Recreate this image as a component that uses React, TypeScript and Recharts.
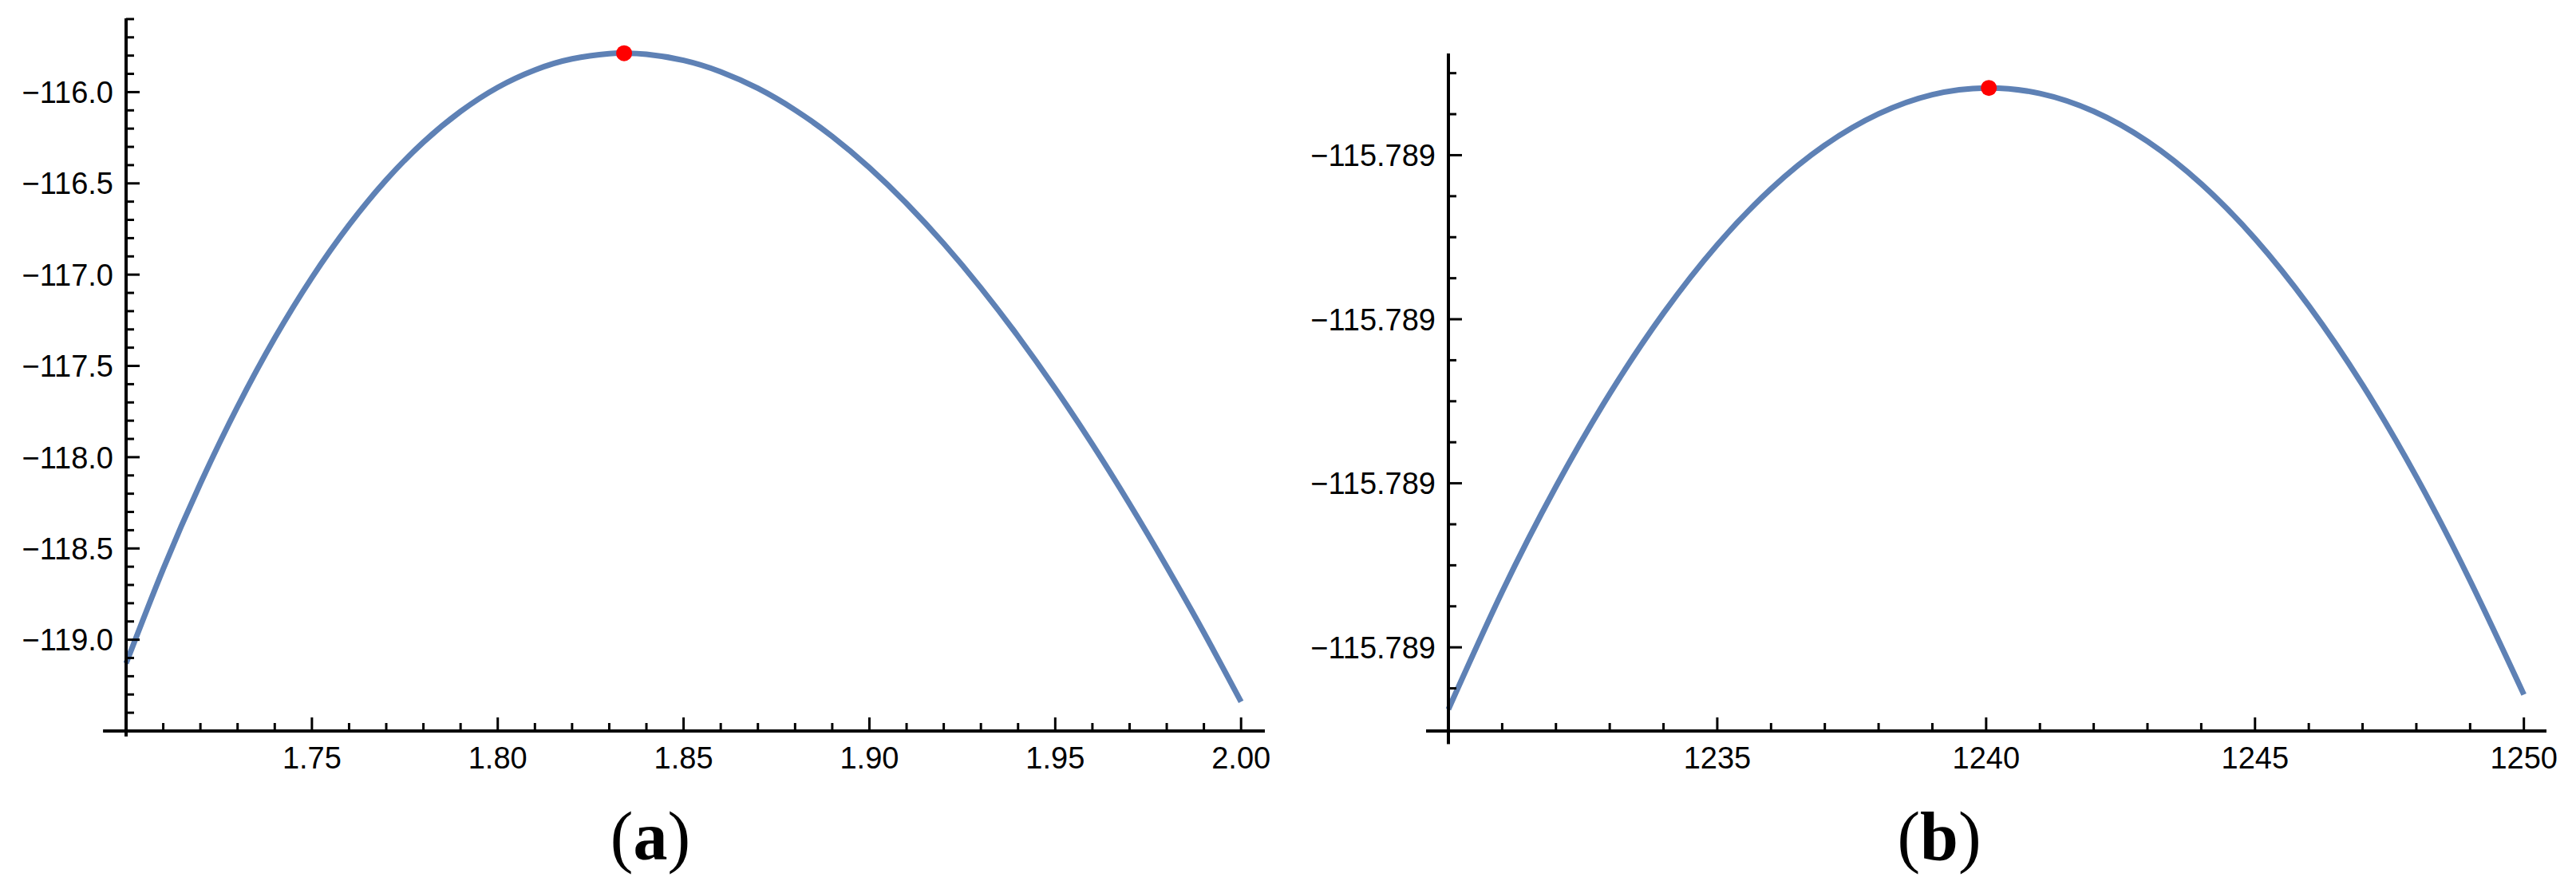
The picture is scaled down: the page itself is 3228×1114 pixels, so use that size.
import React from 'react'
import { ComposedChart, Line, Scatter, XAxis, YAxis, ReferenceLine } from 'recharts'

// panel (a)
const leftX = [
  1.7, 1.71, 1.72, 1.73, 1.74, 1.75, 1.76, 1.77, 1.78, 1.79, 1.8, 1.81, 1.82, 1.83, 1.834, 1.84, 1.85,
  1.86, 1.87, 1.88, 1.89, 1.9, 1.91, 1.92, 1.93, 1.94, 1.95, 1.96, 1.97, 1.98, 1.99, 2.0,
]
const leftY = [
  -119.13, -118.612, -118.144, -117.723, -117.347, -117.016, -116.728, -116.481, -116.274, -116.106,
  -115.974, -115.879, -115.818, -115.7895, -115.787, -115.7925, -115.826, -115.8885, -115.9795,
  -116.098, -116.243, -116.414, -116.61, -116.83, -117.073, -117.338, -117.624, -117.93, -118.256,
  -118.6, -118.961, -119.34,
]
const leftPeakX = [1.834]
const leftPeakY = [-115.787]

const leftXTicks = [
  1.71, 1.72, 1.73, 1.74, 1.75, 1.76, 1.77, 1.78, 1.79, 1.8, 1.81, 1.82, 1.83, 1.84, 1.85, 1.86, 1.87,
  1.88, 1.89, 1.9, 1.91, 1.92, 1.93, 1.94, 1.95, 1.96, 1.97, 1.98, 1.99, 2.0,
]
const leftXMajor = [1.75, 1.8, 1.85, 1.9, 1.95, 2.0]
const leftYTicks = [
  -119.4, -119.3, -119.2, -119.1, -119.0, -118.9, -118.8, -118.7, -118.6, -118.5, -118.4, -118.3,
  -118.2, -118.1, -118.0, -117.9, -117.8, -117.7, -117.6, -117.5, -117.4, -117.3, -117.2, -117.1,
  -117.0, -116.9, -116.8, -116.7, -116.6, -116.5, -116.4, -116.3, -116.2, -116.1, -116.0, -115.9,
  -115.8, -115.7, -115.6,
]
const leftYMajor = [-119.0, -118.5, -118.0, -117.5, -117.0, -116.5, -116.0]

// panel (b)
const rightX = [
  1230, 1231, 1232, 1233, 1234, 1235, 1236, 1237, 1238, 1239, 1240, 1241, 1242, 1243, 1244, 1245,
  1246, 1247, 1248, 1249, 1250,
]
const rightY = [
  -115.789103378, -115.789102661, -115.78910202, -115.789101454, -115.789100963, -115.789100546,
  -115.789100205, -115.789099939, -115.789099748, -115.789099631, -115.78909959, -115.789099624,
  -115.789099733, -115.789099916, -115.789100175, -115.789100509, -115.789100918, -115.789101401,
  -115.78910196, -115.789102594, -115.789103288,
]
const rightPeakX = [1240.05]
const rightPeakY = [-115.78909959]

const rightXTicks = [
  1231, 1232, 1233, 1234, 1235, 1236, 1237, 1238, 1239, 1240, 1241, 1242, 1243, 1244, 1245, 1246,
  1247, 1248, 1249, 1250,
]
const rightXMajor = [1235, 1240, 1245, 1250]
const rightYTicks = [
  -115.7890995, -115.78909975, -115.7891, -115.78910025, -115.7891005, -115.78910075, -115.789101,
  -115.78910125, -115.7891015, -115.78910175, -115.789102, -115.78910225, -115.7891025,
  -115.78910275, -115.789103, -115.78910325,
]
const rightYMajor = [-115.7891, -115.789101, -115.789102, -115.789103]

const toPoints = (xs: number[], ys: number[]) => xs.map((x, i) => ({ x, y: ys[i] }))

const FONT = 'Liberation Sans, Arial, sans-serif'
const CURVE = '#5E81B5'

const fmt = (v: number, digits: number) => v.toFixed(digits).replace('-', '\u2212')
const isMajor = (majors: number[], v: number) => majors.some((m) => Math.abs(m - v) < 1e-10)

const yTick = (majors: number[], digits: number) => (props: any) => {
  const { x, y, payload } = props
  const major = isMajor(majors, payload.value)
  return (
    <g>
      <line x1={x} y1={y} x2={x + (major ? 17 : 10)} y2={y} stroke="#000" strokeWidth={3} />
      {major && (
        <text x={x - 16} y={y} dy="0.36em" textAnchor="end" fontSize={38} fontFamily={FONT} fill="#000">
          {fmt(payload.value, digits)}
        </text>
      )}
    </g>
  )
}

const xTick = (majors: number[], digits: number) => (props: any) => {
  const { x, y, payload } = props
  const major = isMajor(majors, payload.value)
  return (
    <g>
      <line x1={x} y1={y} x2={x} y2={y - (major ? 17 : 10)} stroke="#000" strokeWidth={3} />
      {major && (
        <text x={x} y={y + 47} textAnchor="middle" fontSize={38} fontFamily={FONT} fill="#000">
          {fmt(payload.value, digits)}
        </text>
      )}
    </g>
  )
}

const redDot = (props: any) => <circle cx={props.cx} cy={props.cy} r={10} fill="#FF0000" />

function PanelA() {
  return (
    <ComposedChart width={1640} height={1114} margin={{ top: 23, right: 55, bottom: 138, left: 0 }}>
      <XAxis
        type="number"
        dataKey="x"
        domain={[1.7, 2.0064]}
        ticks={leftXTicks}
        interval={0}
        tickSize={0}
        tickMargin={0}
        tickLine={false}
        axisLine={{ stroke: '#000', strokeWidth: 4 }}
        tick={xTick(leftXMajor, 2)}
        height={60}
      />
      <YAxis
        type="number"
        dataKey="y"
        domain={[-119.5, -115.596]}
        ticks={leftYTicks}
        interval={0}
        tickSize={0}
        tickMargin={0}
        tickLine={false}
        axisLine={{ stroke: '#000', strokeWidth: 4 }}
        tick={yTick(leftYMajor, 1)}
        width={158}
      />
      <ReferenceLine
        segment={[{ x: 1.6938, y: -119.5 }, { x: 1.7, y: -119.5 }]}
        stroke="#000"
        strokeWidth={4}
        ifOverflow="visible"
      />
      <ReferenceLine
        segment={[{ x: 1.7, y: -119.5 }, { x: 1.7, y: -119.53 }]}
        stroke="#000"
        strokeWidth={4}
        ifOverflow="visible"
      />
      <Line
        data={toPoints(leftX, leftY)}
        dataKey="y"
        type="natural"
        stroke={CURVE}
        strokeWidth={7}
        dot={false}
        activeDot={false}
        isAnimationActive={false}
      />
      <Scatter
        data={toPoints(leftPeakX, leftPeakY)}
        dataKey="y"
        shape={redDot}
        isAnimationActive={false}
      />
    </ComposedChart>
  )
}

function PanelB() {
  return (
    <ComposedChart width={1588} height={1114} margin={{ top: 67, right: 37, bottom: 138, left: 0 }}>
      <XAxis
        type="number"
        dataKey="x"
        domain={[1230, 1250.42]}
        ticks={rightXTicks}
        interval={0}
        tickSize={0}
        tickMargin={0}
        tickLine={false}
        axisLine={{ stroke: '#000', strokeWidth: 4 }}
        tick={xTick(rightXMajor, 0)}
        height={60}
      />
      <YAxis
        type="number"
        dataKey="y"
        domain={[-115.78910351, -115.78909938]}
        ticks={rightYTicks}
        interval={0}
        tickSize={0}
        tickMargin={0}
        tickLine={false}
        axisLine={{ stroke: '#000', strokeWidth: 4 }}
        tick={yTick(rightYMajor, 3)}
        width={175}
      />
      <ReferenceLine
        segment={[{ x: 1229.585, y: -115.78910351 }, { x: 1230, y: -115.78910351 }]}
        stroke="#000"
        strokeWidth={4}
        ifOverflow="visible"
      />
      <ReferenceLine
        segment={[{ x: 1230, y: -115.78910351 }, { x: 1230, y: -115.78910359 }]}
        stroke="#000"
        strokeWidth={4}
        ifOverflow="visible"
      />
      <Line
        data={toPoints(rightX, rightY)}
        dataKey="y"
        type="natural"
        stroke={CURVE}
        strokeWidth={7}
        dot={false}
        activeDot={false}
        isAnimationActive={false}
      />
      <Scatter
        data={toPoints(rightPeakX, rightPeakY)}
        dataKey="y"
        shape={redDot}
        isAnimationActive={false}
      />
    </ComposedChart>
  )
}

export default function App() {
  return (
    <div style={{ position: 'absolute', left: 0, top: 0, width: 3228, height: 1114, background: '#fff' }}>
      <div style={{ position: 'absolute', left: 0, top: 0 }}>
        <PanelA />
      </div>
      <div style={{ position: 'absolute', left: 1640, top: 0 }}>
        <PanelB />
      </div>
      <svg
        width={3228}
        height={1114}
        style={{ position: 'absolute', left: 0, top: 0, pointerEvents: 'none' }}
      >
        <text x={815} y={1077} textAnchor="middle" fontSize={86} fontFamily="Liberation Serif, Times New Roman, serif">
          (<tspan fontWeight="bold">a</tspan>)
        </text>
        <text x={2430} y={1077} textAnchor="middle" fontSize={86} fontFamily="Liberation Serif, Times New Roman, serif">
          (<tspan fontWeight="bold">b</tspan>)
        </text>
      </svg>
    </div>
  )
}
